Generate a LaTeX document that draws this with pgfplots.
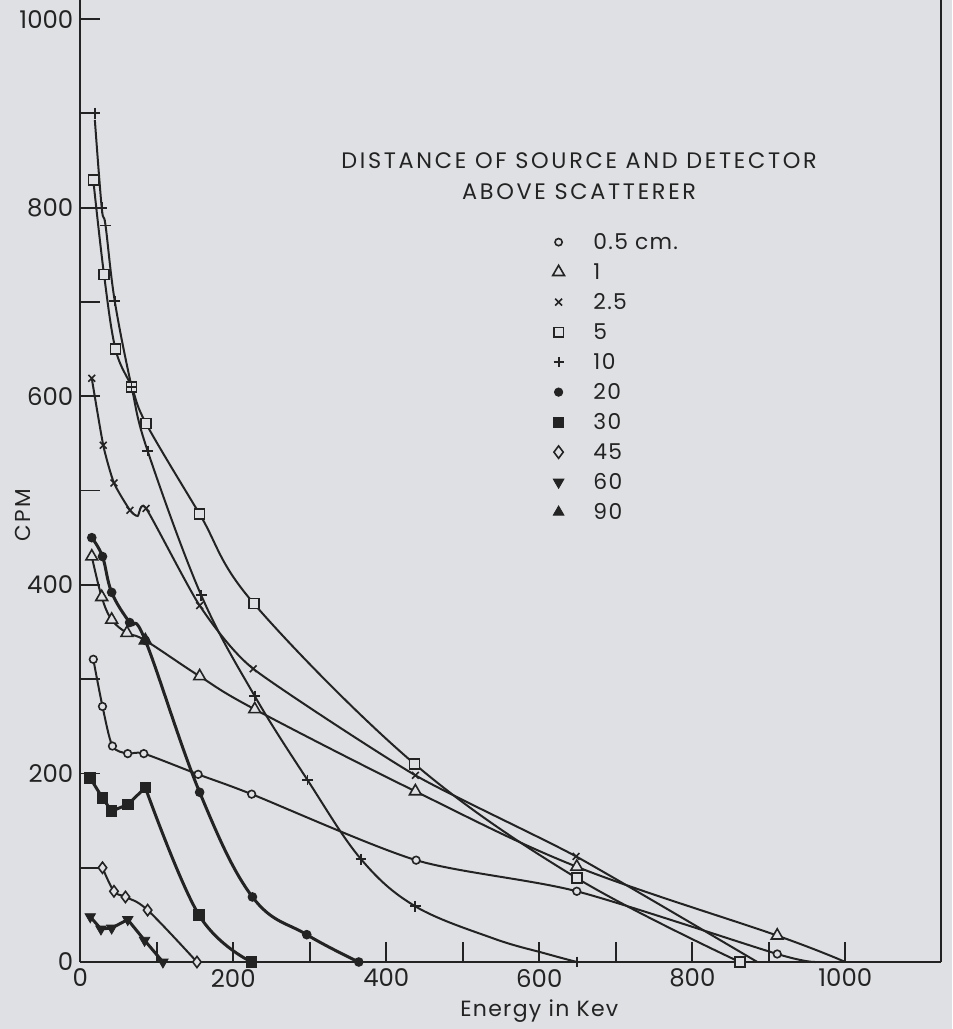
\documentclass[border=0pt]{standalone}
\usepackage{fontspec}
\setmainfont{Poppins}
\newfontfamily\spaced{Poppins}[LetterSpace=12]
\newfontfamily\spacedb{Poppins}[LetterSpace=6]
\usepackage{pgfplots}
\pgfplotsset{compat=1.18}
\definecolor{bg}{RGB}{223,224,227}
\definecolor{ink}{RGB}{35,35,35}
\pgfplotsset{
  ser/.style={ink, line width=1pt, smooth, tension=0.6, no marks, forget plot},
  serb/.style={ink, line width=1.5pt, smooth, tension=0.65, no marks, forget plot},
  mk/.style={ink, only marks, forget plot, mark options={line width=0.8pt, draw=ink, fill=bg, solid}},
  mkf/.style={ink, only marks, forget plot, mark options={line width=0.6pt, draw=ink, fill=ink, solid}},
}
\begin{document}
\pagecolor{bg}
\begin{tikzpicture}
\begin{axis}[
  scale only axis, width=430.5pt, height=481pt,
  xmin=0, xmax=1125.5, ymin=0, ymax=1020.2,
  axis lines*=left, axis line style={ink, line width=1pt},
  xtick={0,100,...,1000}, ytick={0,100,...,1000},
  xticklabels={0,,200,,400,,600,,800,,1000},
  yticklabels={0,,200,,400,,600,,800,,1000},
  tick align=inside, major tick length=10pt, tick style={ink, line width=0.9pt},
  ticklabel style={font=\fontsize{12.2}{14}\selectfont, text=ink},
  /pgf/number format/assume math mode=true,
  clip=false,
  legend image code/.code={\draw[#1] plot coordinates {(0cm,0cm)};},
  legend style={at={(axis cs:617,771.8)}, anchor=north west, draw=none, fill=none,
    inner sep=0pt, row sep=7.5pt, column sep=14.5pt, text=ink,
    font=\spacedb\fontsize{10.9}{12}\selectfont,
    nodes={inner sep=0pt, text height=7.5pt, text depth=0pt}},
  legend cell align=left,
]
% legend images
\addlegendimage{ink, mark=*, mark size=1.8pt, mark options={line width=0.8pt, draw=ink, fill=bg}}
\addlegendentry{0.5 cm.}
\addlegendimage{ink, mark=triangle*, mark size=3.4pt, mark options={line width=0.8pt, draw=ink, fill=bg}}
\addlegendentry{1}
\addlegendimage{ink, mark=x, mark size=2.4pt, mark options={line width=0.8pt}}
\addlegendentry{2.5}
\addlegendimage{ink, mark=square*, mark size=2.4pt, mark options={line width=0.8pt, draw=ink, fill=bg}}
\addlegendentry{5}
\addlegendimage{ink, mark=+, mark size=2.5pt, mark options={line width=0.9pt}}
\addlegendentry{10}
\addlegendimage{ink, mark=*, mark size=2.1pt, mark options={draw=ink, fill=ink}}
\addlegendentry{20}
\addlegendimage{ink, mark=square*, mark size=2.4pt, mark options={draw=ink, fill=ink}}
\addlegendentry{30}
\addlegendimage{ink, mark=diamond*, mark size=3.1pt, mark options={line width=0.8pt, draw=ink, fill=bg}}
\addlegendentry{45}
\addlegendimage{ink, mark=triangle*, mark size=3.1pt, mark options={draw=ink, fill=ink, rotate=180}}
\addlegendentry{60}
\addlegendimage{ink, mark=triangle*, mark size=3.1pt, mark options={draw=ink, fill=ink}}
\addlegendentry{90}

% 0.5 cm
\addplot[ser, tension=0.45] coordinates {(17,321) (29,271) (42,229) (62,221) (83,221) (154,199) (224,178) (439,108) (649,75) (911,8.5) (961,0)};
\addplot[mk, mark=*, mark size=1.9pt] coordinates {(17,321) (29,271) (42,229) (62,221) (83,221) (154,199) (224,178) (439,108) (649,75) (911,8.5)};
% 1
\addplot[ser] coordinates {(15,430) (28,387) (41,363) (61,349) (85,341) (156,303) (228,268) (438,181) (649,101) (911,28) (1000,0)};
\addplot[mk, mark=triangle*, mark size=3.4pt] coordinates {(15,430) (28,387) (41,363) (61,349) (156,303) (228,268) (438,181) (649,101) (911,28)};
% 2.5
\addplot[ser, tension=0.35] coordinates {(15,619) (30,548) (44,508) (65,479) (75,473) (86,481) (156,378) (226,311) (438,198) (648,112) (885,0)};
\addplot[mk, mark=x, mark size=2.4pt] coordinates {(15,619) (30,548) (44,508) (65,479) (86,481) (156,378) (226,311) (438,198) (648,112)};
% 5
\addplot[ser] coordinates {(17,829) (31,729) (46,650) (67,610) (86,571) (156,475) (227,380) (437,210) (649,89) (862,0)};
\addplot[mk, mark=square*, mark size=2.5pt] coordinates {(17,829) (31,729) (46,650) (67,610) (86,571) (156,475) (227,380) (437,210) (649,89) (862,0)};
% 10
\addplot[ser] coordinates {(19,893) (28,800) (33,781) (45,701) (67,610) (88,542) (158,389) (228,282) (297,193) (367,109) (438,59) (540,25) (608,9) (649,0)};
\addplot[mk, mark=+, mark size=2.7pt, mark options={line width=0.9pt}] coordinates {(19,900) (28,800) (33,781) (45,701) (67,610) (88,542) (158,389) (228,282) (297,193) (367,109) (438,59) (649,0)};
% 20
\addplot[serb] coordinates {(15,450) (29,430) (41,392) (64.5,360) (85,341) (156,180) (225,69) (296,29) (364,0)};
\addplot[mkf, mark=*, mark size=2.1pt] coordinates {(15,450) (29,430) (41,392) (64.5,360) (85,341) (156,180) (225,69) (296,29) (364,0)};
% 30
\addplot[ink, line width=1.5pt, sharp plot, no marks, forget plot] coordinates {(13,195) (29,174) (41,160) (62,167) (85,185)};
\addplot[serb] coordinates {(85,185) (155,50) (224,0)};
\addplot[mkf, mark=square*, mark size=2.6pt] coordinates {(13,195) (29,174) (41,160) (62,167) (85,185) (155,50) (224,0)};
% 45
\addplot[ser] coordinates {(29,100) (44,75) (59,69) (88,55) (152.5,0)};
\addplot[mk, mark=diamond*, mark size=2.8pt] coordinates {(29,100) (44,75) (59,69) (88,55) (152.5,0)};
% 60
\addplot[ink, line width=1.5pt, sharp plot, no marks, forget plot] coordinates {(13,48) (27,35) (41,36) (62,45) (84,23) (108,0)};
\addplot[mkf, mark=triangle*, mark size=3pt, mark options={rotate=180}] coordinates {(13,48) (27,35) (41,36) (62,45) (84,23) (108,0)};
% 90
\addplot[mkf, mark=triangle*, mark size=3.6pt] coordinates {(85,341)};

% right border
\draw[ink, line width=1pt] (axis cs:1125.5,0) -- (axis cs:1125.5,1020.2);
% titles and labels
\node[align=center, text=ink, font=\spaced\fontsize{11.2}{15.5}\selectfont] at (axis cs:652,833) {DISTANCE OF SOURCE AND DETECTOR\\ABOVE SCATTERER};
\node[rotate=90, text=ink, font=\spaced\fontsize{10.8}{12}\selectfont] at (axis cs:-74.5,474) {CPM};
\node[text=ink, font=\spacedb\fontsize{11}{12}\selectfont] at (axis cs:600,-52) {Energy in Kev};
\coordinate (bl) at (axis cs:-98,-71.05);
\coordinate (tr) at (axis cs:1139.9,1020.2);
\end{axis}
\pgfresetboundingbox
\path[use as bounding box] (bl) rectangle (tr);
\end{tikzpicture}
\end{document}
